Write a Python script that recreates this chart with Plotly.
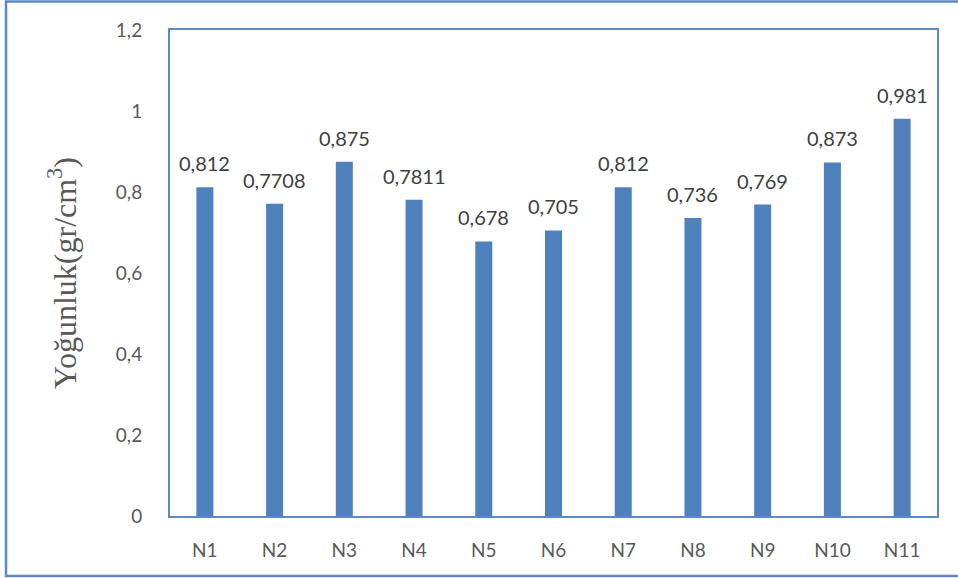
import plotly.graph_objects as go

# Density of samples N1..N11
samples = ["N1", "N2", "N3", "N4", "N5", "N6", "N7", "N8", "N9", "N10", "N11"]
density = [0.812, 0.7708, 0.875, 0.7811, 0.678, 0.705, 0.812, 0.736, 0.769, 0.873, 0.981]
density_labels = ["0,812", "0,7708", "0,875", "0,7811", "0,678", "0,705",
                  "0,812", "0,736", "0,769", "0,873", "0,981"]
y_ticks = [0, 0.2, 0.4, 0.6, 0.8, 1.0, 1.2]
y_tick_labels = ["0", "0,2", "0,4", "0,6", "0,8", "1", "1,2"]

BAR = "#4F81BD"
FRAME = "#5B8BC7"
TICK_FONT = dict(family="Lato, Carlito, sans-serif", size=19, color="#595959")
LABEL_FONT = dict(family="Lato, Carlito, sans-serif", size=20, color="#404040")

fig = go.Figure(
    go.Bar(
        x=samples,
        y=density,
        marker=dict(color=BAR, line=dict(width=0)),
        hoverinfo="x+y",
    )
)

# value labels above each bar
for s, v, lbl in zip(samples, density, density_labels):
    fig.add_annotation(
        x=s, y=v, text=lbl, showarrow=False,
        yanchor="bottom", yshift=10, font=LABEL_FONT,
    )

# plot-area size in pixels, used to place the outer frame in paper units
W, H = 958, 578
ML, MR, MT, MB = 170, 21, 30, 62
pw, ph = W - ML - MR, H - MT - MB

fig.update_layout(
    width=W,
    height=H,
    margin=dict(l=ML, r=MR, t=MT, b=MB, autoexpand=False),
    paper_bgcolor="white",
    plot_bgcolor="white",
    bargap=0.756,
    showlegend=False,
    shapes=[
        dict(
            type="rect", xref="paper", yref="paper",
            x0=(6 - ML) / pw, x1=(W + 4 - ML) / pw,
            y0=-(H - 2 - MT - ph) / ph, y1=1 + (MT - 1.5) / ph,
            line=dict(color=FRAME, width=2.5), layer="below",
        )
    ],
)

fig.update_xaxes(
    showline=True, mirror=True, linecolor=FRAME, linewidth=2,
    showgrid=False, ticks="", tickfont=TICK_FONT, ticklabelstandoff=16,
)
fig.update_yaxes(
    range=[0, 1.2],
    tickvals=y_ticks, ticktext=y_tick_labels,
    showline=True, mirror=True, linecolor=FRAME, linewidth=2,
    showgrid=False, zeroline=False, ticks="", tickfont=TICK_FONT,
    ticklabelstandoff=22,
    title=dict(
        text="Yoğunluk(gr/cm<sup>3</sup>)",
        font=dict(family="Liberation Serif, Times New Roman, serif", size=32, color="#595959"),
        standoff=30,
    ),
    automargin=False,
)

fig.write_html("out.html")
